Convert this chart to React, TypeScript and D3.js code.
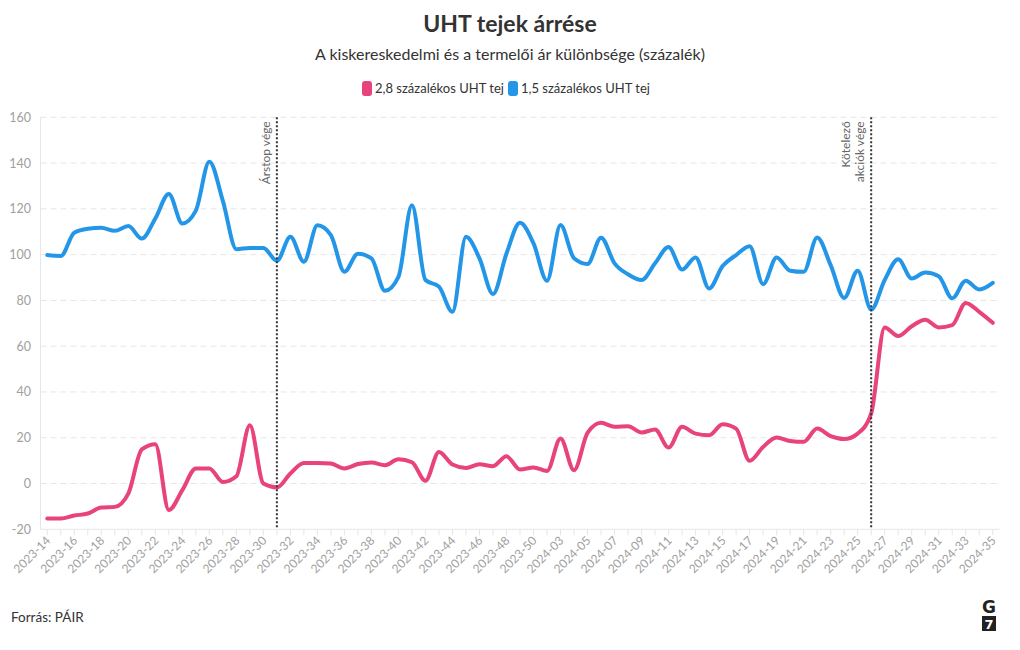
import React from "react";
import * as d3 from "d3";

const categories: string[] = [
  "2023-14","2023-15","2023-16","2023-17","2023-18","2023-19","2023-20","2023-21","2023-22","2023-23",
  "2023-24","2023-25","2023-26","2023-27","2023-28","2023-29","2023-30","2023-31","2023-32","2023-33",
  "2023-34","2023-35","2023-36","2023-37","2023-38","2023-39","2023-40","2023-41","2023-42","2023-43",
  "2023-44","2023-45","2023-46","2023-47","2023-48","2023-49","2023-50","2024-02","2024-03","2024-04",
  "2024-05","2024-06","2024-07","2024-08","2024-09","2024-10","2024-11","2024-12","2024-13","2024-14",
  "2024-15","2024-16","2024-17","2024-18","2024-19","2024-20","2024-21","2024-22","2024-23","2024-24",
  "2024-25","2024-26","2024-27","2024-28","2024-29","2024-30","2024-31","2024-32","2024-33","2024-34",
  "2024-35",
];

const milk28: number[] = [
  -15.3, -15.3, -14, -13.1, -10.5, -10.2, -4.4, 14.9, 17.2, -11.6,
  -2.9, 6.6, 6.6, 0.7, 3.2, 25.5, 0, -1.7, 4.4, 9,
  9, 8.7, 6.6, 8.5, 9.2, 8, 10.6, 9.3, 1.2, 13.8,
  8.3, 6.8, 8.4, 7.6, 11.9, 6.1, 7, 5.5, 19.7, 5.8,
  22.1, 26.5, 24.8, 25, 22.3, 23.6, 15.7, 24.8, 21.8, 21.1,
  25.9, 24, 9.9, 16, 20.1, 18.6, 18.2, 24, 20.7, 19.4,
  21.8, 30.6, 68.2, 64.4, 68.7, 71.6, 68.2, 69.2, 78.9, 75,
  70.2,
];

const milk15: number[] = [
  99.8, 99.4, 109.6, 111.3, 111.7, 110.4, 112.5, 107, 115.8, 126.5,
  113.6, 119.2, 140.6, 123.5, 102.4, 102.9, 102.9, 97.3, 107.8, 96.9,
  112.8, 108.5, 92.5, 100.4, 98.4, 84.2, 90.3, 121.6, 88.9, 86,
  75, 107.8, 98.4, 82.8, 100.5, 113.9, 104.9, 88.6, 112.9, 98.4,
  95.9, 107.4, 96.2, 91.4, 88.9, 96.2, 103.3, 93.5, 98.8, 85.2,
  95, 99.8, 103.7, 87.1, 98.8, 93, 92.5, 107.5, 95.4, 81.1,
  93, 76, 88.9, 98, 89.6, 92.2, 90.6, 80.9, 88.6, 84.8,
  87.7,
];

const yTicks: number[] = [-20, 0, 20, 40, 60, 80, 100, 120, 140, 160];

const seriesNames: string[] = ["2,8 százalékos UHT tej", "1,5 százalékos UHT tej"];
const seriesColors: string[] = ["#e8437a", "#2496e8"];

const markers: { cat: string; lines: string[] }[] = [
  { cat: "2023-31", lines: ["Árstop vége"] },
  { cat: "2024-26", lines: ["Kötelező", "akciók vége"] },
];

const W = 1020;
const H = 650;
const FONT = "Lato, 'Noto Sans', sans-serif";

export default function App() {
  const left = 40.5;
  const right = 999.5;
  const top = 117.3;
  const bottom = 529.3;

  const x = d3.scalePoint<string>().domain(categories).range([left, right]).padding(0.5);
  const y = d3.scaleLinear().domain([-20, 160]).range([bottom, top]);

  const line = d3
    .line<number>()
    .x((_, i) => x(categories[i]) as number)
    .y((d) => y(d))
    .curve(d3.curveMonotoneX);

  const allSeries = [milk28, milk15];

  return (
    <svg width={W} height={H} style={{ position: "absolute", left: 0, top: 0, background: "#fff" }} fontFamily={FONT}>
      <rect x={0} y={0} width={W} height={H} fill="#fff" />
      <text x={510} y={32} textAnchor="middle" fontSize={23} fontWeight={700} fill="#333">
        UHT tejek árrése
      </text>
      <text x={510} y={60} textAnchor="middle" fontSize={16} fill="#333">
        A kiskereskedelmi és a termelői ár különbsége (százalék)
      </text>

      {/* legend */}
      <g>
        <rect x={362} y={81} width={10} height={15} rx={3} fill={seriesColors[0]} />
        <text x={375} y={93} fontSize={13} fill="#333">{seriesNames[0]}</text>
        <rect x={508} y={81} width={10} height={15} rx={3} fill={seriesColors[1]} />
        <text x={521} y={93} fontSize={13} fill="#333">{seriesNames[1]}</text>
      </g>

      {/* grid */}
      {yTicks.map((t) => (
        <g key={t}>
          {t !== -20 && (
            <line x1={left} x2={right} y1={y(t)} y2={y(t)} stroke="#e6e6e6" strokeDasharray="6,4" strokeWidth={1} />
          )}
          <text x={31} y={y(t) + 4.5} textAnchor="end" fontSize={12.5} fill="#a0a0a0">
            {t}
          </text>
        </g>
      ))}
      <line x1={left} x2={left} y1={top} y2={bottom} stroke="#e6e6e6" />
      <line x1={left} x2={right} y1={bottom} y2={bottom} stroke="#e6e6e6" />

      {/* x ticks */}
      {categories.map((c, i) => (
        <g key={c}>
          <line x1={x(c)} x2={x(c)} y1={bottom} y2={bottom + 6} stroke="#e6e6e6" />
          {i % 2 === 0 && (
            <text
              transform={`translate(${(x(c) as number) + 4},${bottom + 12}) rotate(-45)`}
              textAnchor="end"
              fontSize={12}
              fill="#a0a0a0"
            >
              {c}
            </text>
          )}
        </g>
      ))}

      {/* series */}
      {allSeries.map((s, k) => (
        <path key={k} d={line(s) || ""} fill="none" stroke={seriesColors[k]} strokeWidth={4} strokeLinejoin="round" strokeLinecap="round" />
      ))}

      {/* markers */}
      {markers.map((m) => {
        const mx = x(m.cat) as number;
        const n = m.lines.length;
        return (
          <g key={m.cat}>
            <line x1={mx} x2={mx} y1={top} y2={bottom} stroke="#333" strokeWidth={2} strokeDasharray="2,2" />
            {m.lines.map((l, j) => (
              <text
                key={j}
                transform={`translate(${mx - 7 - (n - 1 - j) * 14},${top + 4}) rotate(-90)`}
                textAnchor="end"
                fontSize={12}
                fill="#666"
              >
                {l}
              </text>
            ))}
          </g>
        );
      })}

      {/* footer */}
      <text x={11} y={622} fontSize={13.5} fill="#333">Forrás: PÁIR</text>
      <g>
        <text x={989} y={613} textAnchor="middle" fontSize={17} fontWeight={900} fill="#222" fontFamily="'DejaVu Sans', sans-serif">G</text>
        <rect x={982} y={616} width={14} height={15} fill="#222" />
        <text x={989} y={629} textAnchor="middle" fontSize={13} fontWeight={900} fill="#fff" fontFamily="'DejaVu Sans', sans-serif">7</text>
      </g>
    </svg>
  );
}
